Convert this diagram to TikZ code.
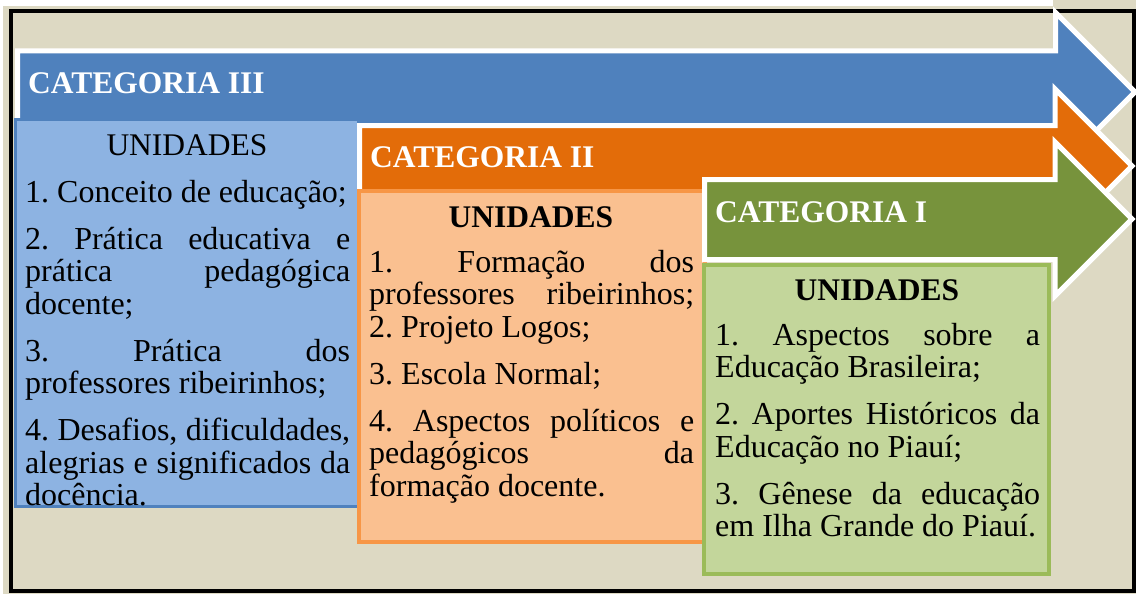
\documentclass[tikz,border=0pt]{standalone}
\usepackage{fontspec}
\setmainfont{Liberation Serif}
\definecolor{bgbeige}{HTML}{DDD9C3}
\definecolor{arrblue}{HTML}{4F81BD}
\definecolor{boxblue}{HTML}{8DB3E2}
\definecolor{arrorange}{HTML}{E36C09}
\definecolor{boxorange}{HTML}{FAC090}
\definecolor{lineorange}{HTML}{F79646}
\definecolor{arrgreen}{HTML}{77933C}
\definecolor{boxgreen}{HTML}{C3D69B}
\definecolor{linegreen}{HTML}{9BBB59}
\newcommand\pgap{\par\vspace{14.5pt}}
\begin{document}
\frenchspacing
\begin{tikzpicture}[x=1pt,y=-1pt,
  catarrow/.style={draw=white, line width=5pt, line join=miter},
  catlabel/.style={anchor=base west, inner sep=0pt, text=white, font=\fontsize{31.5}{32.5}\selectfont\bfseries},
  unitbox/.style={line width=#1},
  unittitle/.style={anchor=base, inner sep=0pt, font=\fontsize{31.5}{32.5}\selectfont},
  unitbody/.style={anchor=base west, inner sep=0pt, text width=325pt, align=justify, font=\fontsize{32}{32.5}\selectfont\frenchspacing}]
\useasboundingbox (0,0) rectangle (1136,594);
\fill[bgbeige] (0,0) rectangle (1136,594);
\fill[white] (0,0) rectangle (1053,6);
\fill[white] (0,0) rectangle (3,594);
\draw[black, line width=4pt] (11,11) rectangle (1134,591);
% Category III
\fill[arrblue, catarrow] (17.5,51) -- (1055.5,51) -- (1055.5,12.5) -- (1135,92) -- (1055.5,171.5) -- (1055.5,133) -- (17.5,133) -- cycle;
\fill[boxblue, draw=arrblue, unitbox=3pt] (15,119) rectangle (358,506);
\node[catlabel] (c3) at (28,94) {CATEGORIA III};
\node[unittitle] (u3) at (187,155) {UNIDADES};
\node[unitbody] (b3) at (25,202) {1. Conceito de educação;\pgap
2. Prática educativa e\linebreak prática pedagógica\linebreak docente;\pgap
3. Prática dos\linebreak professores ribeirinhos;\pgap
4. Desafios, dificuldades,\linebreak alegrias e significados da\linebreak docência.};
% Category II
\fill[arrorange, catarrow] (359.5,125.5) -- (1055,125.5) -- (1055,89) -- (1132,166) -- (1055,243) -- (1055,206.5) -- (359.5,206.5) -- cycle;
\fill[boxorange, draw=lineorange, unitbox=4pt] (359,191) rectangle (705,542);
\node[catlabel] (c2) at (370,167) {CATEGORIA II};
\node[unittitle, font=\fontsize{31.5}{32.5}\selectfont\bfseries] (u2) at (531,227) {UNIDADES};
\node[unitbody] (b2) at (369,272) {1. Formação dos\linebreak professores ribeirinhos;\linebreak 2. Projeto Logos;\pgap
3. Escola Normal;\pgap
4. Aspectos políticos e\linebreak pedagógicos da\linebreak formação docente.};
% Category I
\fill[arrgreen, catarrow] (704.5,179.5) -- (1055,179.5) -- (1055,142) -- (1132,219) -- (1055,296) -- (1055,259.5) -- (704.5,259.5) -- cycle;
\fill[boxgreen, draw=linegreen, unitbox=4pt] (704,265) rectangle (1049,574);
\node[catlabel] (c1) at (715,222) {CATEGORIA I};
\node[unittitle, font=\fontsize{31.5}{32.5}\selectfont\bfseries] (u1) at (877,300) {UNIDADES};
\node[unitbody] (b1) at (715,345) {1. Aspectos sobre a\linebreak Educação Brasileira;\pgap
2. Aportes Históricos da\linebreak Educação no Piauí;\pgap
3. Gênese da educação\linebreak em Ilha Grande do Piauí.};
\end{tikzpicture}
\end{document}
